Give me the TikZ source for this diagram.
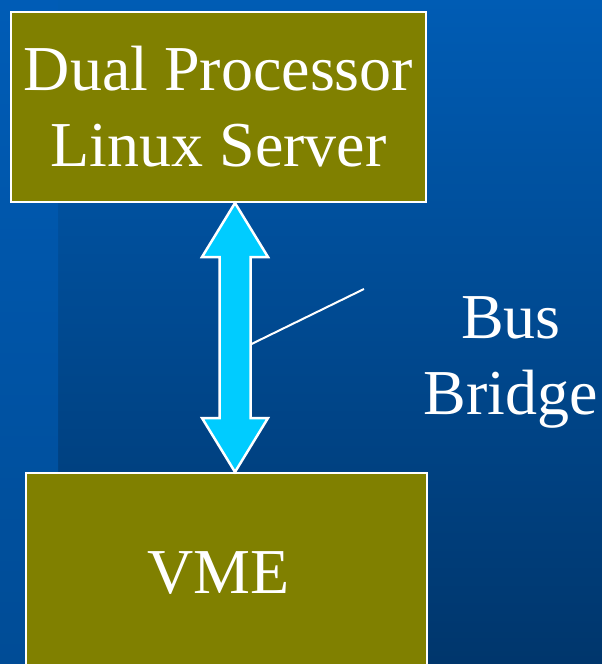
\documentclass[tikz,border=0pt]{standalone}
\usepackage{fontspec}
\setmainfont{Liberation Serif}
\usetikzlibrary{calc}
\definecolor{boxolive}{HTML}{808000}
\definecolor{buscyan}{HTML}{00CCFF}
\definecolor{bgtop}{HTML}{005CB4}
\definecolor{bgbot}{HTML}{00366C}
\definecolor{bandtop}{HTML}{005CB6}
\definecolor{bandbot}{HTML}{004C96}

\begin{document}
\begin{tikzpicture}[x=1pt, y=-1pt,
  every node/.style={text=white, font=\fontsize{64}{76}\selectfont},
  unit/.style={draw=white, line width=2pt, fill=boxolive, align=center, inner sep=0pt},
  bus/.style={draw=white, line width=2.5pt, fill=buscyan, line join=miter}]
  \useasboundingbox (0,0) rectangle (602,664);
  \clip (0,0) rectangle (602,664);
  % background
  \shade[top color=bgtop, bottom color=bgbot] (0,0) rectangle (602,664);
  \shade[top color=bandtop, bottom color=bandbot] (0,0) rectangle (58,664);
  % boxes
  \node[unit, minimum width=415pt, minimum height=190pt] (server) at (218.5,107) {Dual Processor\\Linux Server};
  \node[unit, minimum width=401pt, minimum height=200pt,
        label={[xshift=-8pt]center:VME}] (vme) at (226.5,573) {};
  \node[inner sep=0pt, align=center] (bridge) at (511,362) {Bus\\Bridge};
  % bus arrow
  \coordinate (tipT) at (235,0 |- server.south);
  \coordinate (tipB) at (235,0 |- vme.north);
  \draw[bus] (tipT) -- ++(33,54) -- ++(-17.5,0) -- ($(tipB)+(15.5,-54)$) -- ++(17.5,0) -- (tipB)
    -- ++(-33,-54) -- ++(17.5,0) -- ($(tipT)+(-15.5,54)$) -- ++(-17.5,0) -- cycle;
  % callout
  \coordinate (tap) at ($(tipT)+(16.5,141)$);
  \coordinate (lead) at (364,289);
  \draw[white, line width=2pt] (tap) -- (lead);
\end{tikzpicture}
\end{document}
